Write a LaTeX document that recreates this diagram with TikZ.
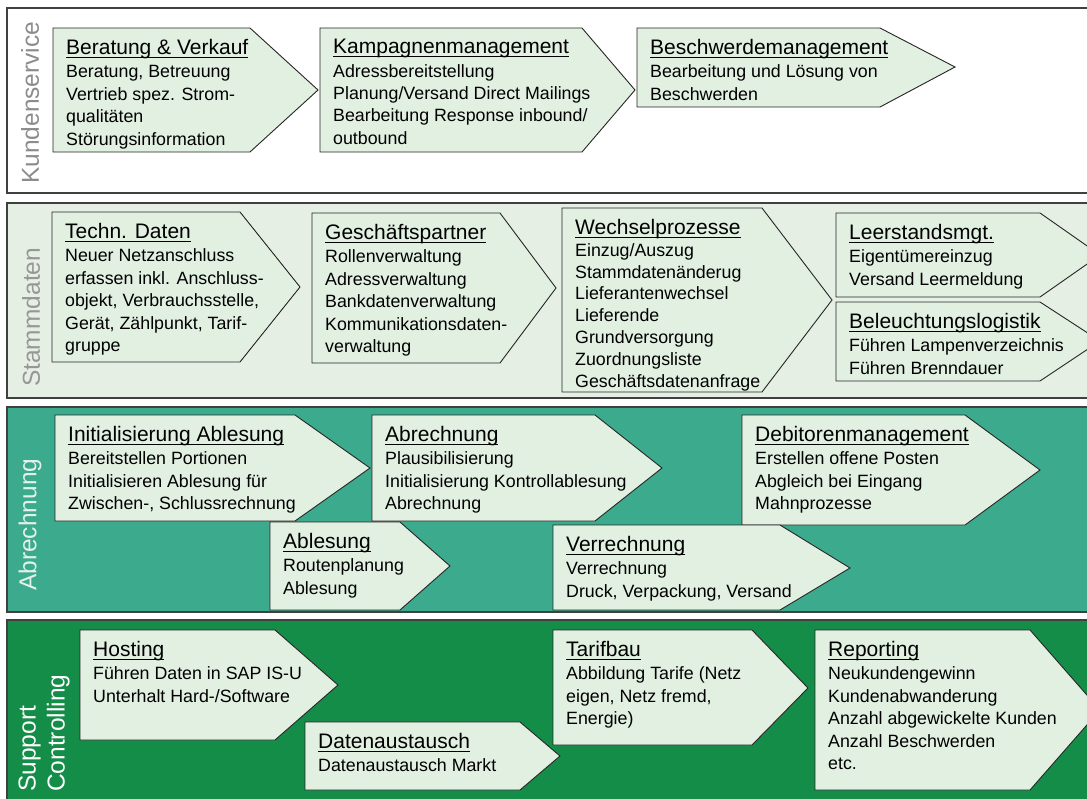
\documentclass[tikz,border=0pt]{standalone}
\usepackage{amsmath}
\usepackage{fontspec}
\setmainfont{Liberation Sans}
\definecolor{BoxGreen}{RGB}{226,240,225}
\definecolor{StammBg}{RGB}{229,239,227}
\definecolor{AbrTeal}{RGB}{60,170,140}
\definecolor{SupGreen}{RGB}{20,141,72}
\definecolor{LabelGray}{RGB}{140,140,140}
\definecolor{LabelLight}{RGB}{225,242,235}
\newcommand{\hd}[1]{{\fontsize{21}{25}\selectfont\underline{\smash[b]{#1}}}}

\begin{document}
\begin{tikzpicture}[x=1pt,y=-1pt,
    band/.style={draw=black!75, line width=1.2pt},
    chevron/.style={draw=black!85, fill=BoxGreen, line width=0.9pt},
    proctext/.style={anchor=north west, inner sep=0pt, align=left,
        font=\fontsize{17.8}{22.4}\selectfont, xshift=13pt, yshift=-11pt},
    bandlabel/.style={rotate=90, anchor=west, inner sep=0pt, align=left,
        font=\fontsize{24.5}{29}\selectfont}]
    \useasboundingbox (0,0) rectangle (1087,798);
    \clip (0,0) rectangle (1087,798);

%   Baender
    \filldraw[band, fill=white] (7,8) rectangle (1100,193);
    \filldraw[band, fill=StammBg] (7,203) rectangle (1100,398);
    \filldraw[band, fill=AbrTeal] (7,407) rectangle (1100,612);
    \filldraw[band, fill=SupGreen] (7,620) rectangle (1100,810);

    \node[bandlabel, text=LabelGray] (kundenservice) at (30,184) {Kundenservice};
    \node[bandlabel, text=LabelGray!90] (stammdaten) at (31,387) {Stammdaten};
    \node[bandlabel, text=LabelLight] (abrechnung) at (30,591) {Abrechnung};
    \node[bandlabel, text=white] (support) at (44,792) {Support\\Controlling};

%   Kundenservice
    \filldraw[chevron] (53,28) -- (250,28) -- (318,90) -- (250,152) -- (53,152) -- cycle;
    \node[proctext] (beratung) at (53,28) {\hd{Beratung \& Verkauf}\\[1pt]Beratung, Betreuung\\Vertrieb spez. Strom-\\qualitäten\\Störungsinformation};
    \filldraw[chevron] (320,28) -- (582,28) -- (635,90) -- (582,152) -- (320,152) -- cycle;
    \node[proctext] (kampagnen) at (320,28) {\hd{Kampagnenmanagement}\\[1pt]Adressbereitstellung\\Planung/Versand Direct Mailings\\Bearbeitung Response inbound/\\outbound};
    \filldraw[chevron] (637,28) -- (880,28) -- (955,67) -- (880,107) -- (637,107) -- cycle;
    \node[proctext] (beschwerde) at (637,28) {\hd{Beschwerdemanagement}\\[1pt]Bearbeitung und Lösung von\\Beschwerden};

%   Stammdaten
    \filldraw[chevron] (52,212) -- (240,212) -- (300,287) -- (240,362) -- (52,362) -- cycle;
    \node[proctext] (technik) at (52,212) {\hd{Techn. Daten}\\[1pt]Neuer Netzanschluss\\erfassen inkl. Anschluss-\\objekt, Verbrauchsstelle,\\Gerät, Zählpunkt, Tarif-\\gruppe};
    \filldraw[chevron] (312,213) -- (500,213) -- (556,288) -- (500,363) -- (312,363) -- cycle;
    \node[proctext] (partner) at (312,213) {\hd{Geschäftspartner}\\[1pt]Rollenverwaltung\\Adressverwaltung\\Bankdatenverwaltung\\Kommunikationsdaten-\\verwaltung};
    \filldraw[chevron] (562,208) -- (762,208) -- (832,300) -- (762,392) -- (562,392) -- cycle;
    \node[proctext, font=\fontsize{17.8}{21.8}\selectfont] (wechsel) at (562,208) {\hd{Wechselprozesse}\\Einzug/Auszug\\Stammdatenänderug\\Lieferantenwechsel\\Lieferende\\Grundversorgung\\Zuordnungsliste\\Geschäftsdatenanfrage};
    \filldraw[chevron] (836,213) -- (1040,213) -- (1100,255) -- (1040,297) -- (836,297) -- cycle;
    \node[proctext] (leerstand) at (836,213) {\hd{Leerstandsmgt.}\\[1pt]Eigentümereinzug\\Versand Leermeldung};
    \filldraw[chevron] (836,302) -- (1040,302) -- (1100,341) -- (1040,381) -- (836,381) -- cycle;
    \node[proctext] (beleuchtung) at (836,302) {\hd{Beleuchtungslogistik}\\[1pt]Führen Lampenverzeichnis\\Führen Brenndauer};

%   Abrechnung
    \filldraw[chevron] (55,415) -- (295,415) -- (370,468) -- (295,521) -- (55,521) -- cycle;
    \node[proctext] (initablesung) at (55,415) {\hd{Initialisierung Ablesung}\\[1pt]Bereitstellen Portionen\\Initialisieren Ablesung für\\Zwischen-, Schlussrechnung};
    \filldraw[chevron] (372,415) -- (595,415) -- (662,468) -- (595,521) -- (372,521) -- cycle;
    \node[proctext] (abrechnen) at (372,415) {\hd{Abrechnung}\\[1pt]Plausibilisierung\\Initialisierung Kontrollablesung\\Abrechnung};
    \filldraw[chevron] (742,415) -- (965,415) -- (1040,470) -- (965,525) -- (742,525) -- cycle;
    \node[proctext] (debitoren) at (742,415) {\hd{Debitorenmanagement}\\[1pt]Erstellen offene Posten\\Abgleich bei Eingang\\Mahnprozesse};
    \filldraw[chevron] (270,522) -- (400,522) -- (450,566) -- (400,610) -- (270,610) -- cycle;
    \node[proctext] (ablesung) at (270,522) {\hd{Ablesung}\\[1pt]Routenplanung\\Ablesung};
    \filldraw[chevron] (553,525) -- (780,525) -- (850,568) -- (780,610) -- (553,610) -- cycle;
    \node[proctext] (verrechnung) at (553,525) {\hd{Verrechnung}\\[1pt]Verrechnung\\Druck, Verpackung, Versand};

%   Support / Controlling
    \filldraw[chevron] (80,630) -- (275,630) -- (338,685) -- (275,740) -- (80,740) -- cycle;
    \node[proctext] (hosting) at (80,630) {\hd{Hosting}\\[1pt]Führen Daten in SAP IS-U\\Unterhalt Hard-/Software};
    \filldraw[chevron] (305,722) -- (520,722) -- (560,756) -- (520,790) -- (305,790) -- cycle;
    \node[proctext] (datenaustausch) at (305,722) {\hd{Datenaustausch}\\[1pt]Datenaustausch Markt};
    \filldraw[chevron] (553,630) -- (752,630) -- (808,688) -- (752,745) -- (553,745) -- cycle;
    \node[proctext] (tarifbau) at (553,630) {\hd{Tarifbau}\\[1pt]Abbildung Tarife (Netz\\eigen, Netz fremd,\\Energie)};
    \filldraw[chevron] (815,630) -- (1030,630) -- (1100,710) -- (1030,790) -- (815,790) -- cycle;
    \node[proctext] (reporting) at (815,630) {\hd{Reporting}\\[1pt]Neukundengewinn\\Kundenabwanderung\\Anzahl abgewickelte Kunden\\Anzahl Beschwerden\\etc.};
\end{tikzpicture}
\end{document}
